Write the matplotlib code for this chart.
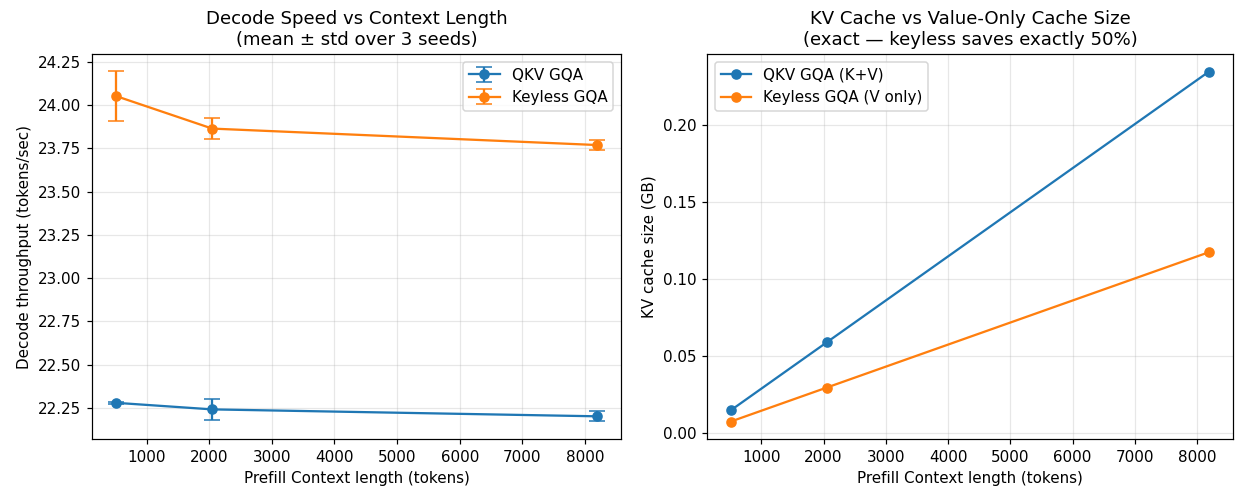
import matplotlib
matplotlib.use("Agg")
import matplotlib.pyplot as plt
import numpy as np

context = [512, 2048, 8192]
qkv_speed = [22.280, 22.242, 22.202]
qkv_std = [0.004, 0.060, 0.030]
keyless_speed = [24.053, 23.865, 23.770]
keyless_std = [0.142, 0.062, 0.028]

qkv_cache = [0.01465, 0.0586, 0.2344]
keyless_cache = [0.00733, 0.0293, 0.1172]

DPI = 109
W, H = 1236, 486
TOP, BOT = 54, 439
fig = plt.figure(figsize=(W / DPI, H / DPI), dpi=DPI)
ax1 = fig.add_axes([92/W, 1-BOT/H, (621-92)/W, (BOT-TOP)/H])
ax2 = fig.add_axes([707/W, 1-BOT/H, (1233-707)/W, (BOT-TOP)/H])

ax1.errorbar(context, qkv_speed, yerr=qkv_std, marker='o', capsize=5, label='QKV GQA', color='#1f77b4')
ax1.errorbar(context, keyless_speed, yerr=keyless_std, marker='o', capsize=5, label='Keyless GQA', color='#ff7f0e')
ax1.set_xlabel('Prefill Context length (tokens)')
ax1.set_ylabel('Decode throughput (tokens/sec)')
ax1.set_title('Decode Speed vs Context Length\n(mean ± std over 3 seeds)')
ax1.grid(True, alpha=0.3)
ax1.legend(loc='upper right')

ax2.plot(context, qkv_cache, marker='o', label='QKV GQA (K+V)', color='#1f77b4')
ax2.plot(context, keyless_cache, marker='o', label='Keyless GQA (V only)', color='#ff7f0e')
ax2.set_xlabel('Prefill Context length (tokens)')
ax2.set_ylabel('KV cache size (GB)')
ax2.set_title('KV Cache vs Value-Only Cache Size\n(exact — keyless saves exactly 50%)')
ax2.grid(True, alpha=0.3)
ax2.legend(loc='upper left')

fig.savefig('out.png', dpi=DPI)
